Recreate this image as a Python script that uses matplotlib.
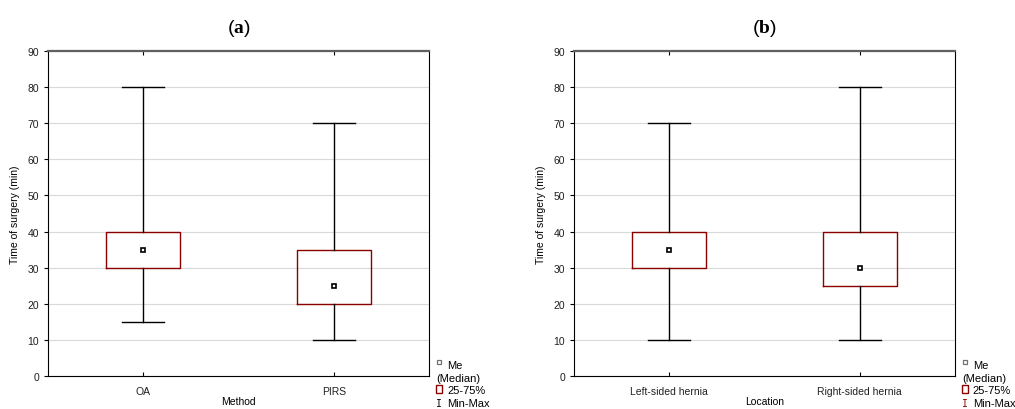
import matplotlib.pyplot as plt
from matplotlib.patches import Rectangle

plt.rcParams['font.family'] = ['Liberation Sans', 'DejaVu Sans']
plt.rcParams['mathtext.fontset'] = 'custom'
plt.rcParams['mathtext.rm'] = 'Liberation Serif'
plt.rcParams['mathtext.bf'] = 'Liberation Serif:bold'

# panel (a): by method
method_cats = ["OA", "PIRS"]
method_min = [15, 10]
method_q1 = [30, 20]
method_med = [35, 25]
method_q3 = [40, 35]
method_max = [80, 70]

# panel (b): by location
loc_cats = ["Left-sided hernia", "Right-sided hernia"]
loc_min = [10, 10]
loc_q1 = [30, 25]
loc_med = [35, 30]
loc_q3 = [40, 40]
loc_max = [70, 80]

yticks = list(range(0, 100, 10))
box_red = "#8b0000"


def panel(ax, cats, mn, q1, med, q3, mx, xlabel, title, mm_color):
    stats = []
    for i in range(len(cats)):
        stats.append(dict(whislo=mn[i], q1=q1[i], med=med[i], q3=q3[i],
                          whishi=mx[i], fliers=[], label=cats[i]))
    pos = list(range(len(cats)))
    ax.bxp(stats, positions=pos, widths=0.39, showfliers=False,
           boxprops=dict(color=box_red, linewidth=1.0),
           whiskerprops=dict(color="black", linewidth=1.0),
           capprops=dict(color="black", linewidth=1.0),
           medianprops=dict(linestyle="none"),
           capwidths=0.22, zorder=3)
    ax.plot(pos, med, "s", ms=3.5, mfc="white", mec="black", mew=1.2, zorder=4)
    ax.set_xlim(-0.5, len(cats) - 0.5)
    ax.set_ylim(0, 90)
    ax.set_yticks(yticks)
    ax.yaxis.grid(True, color="#d9d9d9", linewidth=0.8, zorder=0)
    ax.set_axisbelow(True)
    ax.tick_params(axis="both", labelsize=7.5, length=3, width=0.8, labelcolor="#202020")
    ax.tick_params(axis="x", top=True, direction="in", length=3, pad=7)
    ax.set_xlabel(xlabel, fontsize=7.5, labelpad=0.5)
    ax.set_ylabel("Time of surgery (min)", fontsize=7.5, labelpad=5)
    for s in ["left", "right", "bottom"]:
        ax.spines[s].set_color("black")
        ax.spines[s].set_linewidth(0.8)
    ax.spines["top"].set_color("#606060")
    ax.spines["top"].set_linewidth(1.6)
    ax.set_title(title, fontsize=14, pad=14)

    # hand-made legend below the right edge of the axes
    t = ax.transAxes
    kw = dict(transform=t, fontsize=8, va="center", ha="left", clip_on=False)
    ax.plot([1.025], [0.043], "s", ms=2.3, mfc="white", mec="#707070", mew=0.9,
            transform=t, clip_on=False)
    ax.text(1.047, 0.034, "Me", **kw)
    ax.text(1.018, -0.006, "(Median)", **kw)
    ax.add_patch(Rectangle((1.019, -0.051), 0.014, 0.024, transform=t, clip_on=False,
                           facecolor="white", edgecolor=box_red, linewidth=1.0))
    ax.text(1.047, -0.043, "25-75%", **kw)
    ax.text(1.026, -0.083, "I", transform=t, fontsize=7, va="center", ha="center",
            color=mm_color, clip_on=False, fontfamily="DejaVu Sans Mono")
    ax.text(1.047, -0.083, "Min-Max", **kw)


fig = plt.figure(figsize=(10.15, 4.1), dpi=100)
ax1 = fig.add_axes([0.0473, 0.0805, 0.3754, 0.7927])
ax2 = fig.add_axes([0.5655, 0.0805, 0.3754, 0.7927])

panel(ax1, method_cats, method_min, method_q1, method_med, method_q3, method_max,
      "Method", r"($\mathbf{a}$)", "black")
panel(ax2, loc_cats, loc_min, loc_q1, loc_med, loc_q3, loc_max,
      "Location", r"($\mathbf{b}$)", box_red)

fig.savefig("out.png", dpi=100)
